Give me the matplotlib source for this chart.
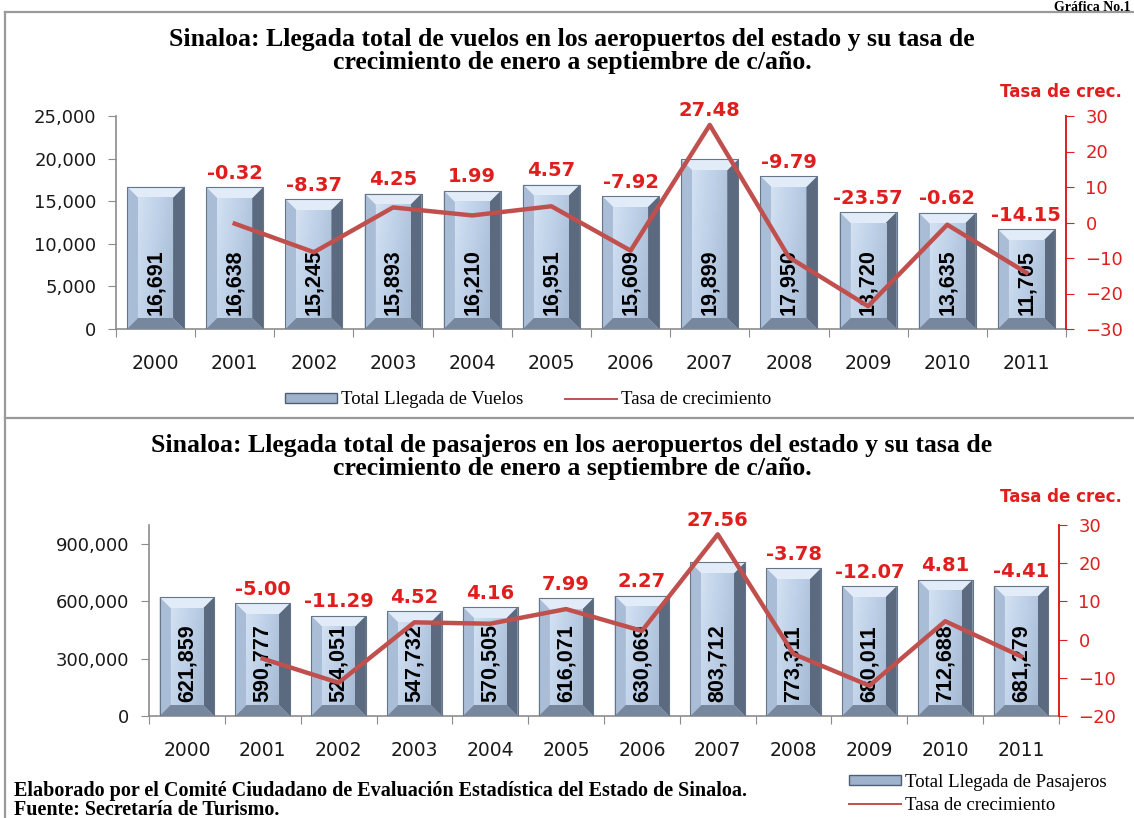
import numpy as np
import matplotlib
matplotlib.use("Agg")
import matplotlib.pyplot as plt
from matplotlib.patches import Patch
from matplotlib.lines import Line2D
from matplotlib.colors import LinearSegmentedColormap
from matplotlib.ticker import FuncFormatter

# --- datos ---
years = ["2000", "2001", "2002", "2003", "2004", "2005",
         "2006", "2007", "2008", "2009", "2010", "2011"]
vuelos = [16691, 16638, 15245, 15893, 16210, 16951,
          15609, 19899, 17950, 13720, 13635, 11705]
tasa_vuelos = [None, -0.32, -8.37, 4.25, 1.99, 4.57,
               -7.92, 27.48, -9.79, -23.57, -0.62, -14.15]
pasajeros = [621859, 590777, 524051, 547732, 570505, 616071,
             630069, 803712, 773311, 680011, 712688, 681279]
tasa_pasajeros = [None, -5.00, -11.29, 4.52, 4.16, 7.99,
                  2.27, 27.56, -3.78, -12.07, 4.81, -4.41]

W, H = 1134, 818
RED = "#e01e1e"
LINE = "#c0504d"
GRAY = "#8c8c8c"
face_cmap = LinearSegmentedColormap.from_list("face", ["#d3e1f2", "#bccfe7", "#a6bad3"])


def fx(px):
    return px / W


def fy(px):
    return 1 - px / H


def bevel_bars(ax, bars, px=11):
    bb = ax.get_window_extent()
    x0, x1 = ax.get_xlim()
    y0, y1 = ax.get_ylim()
    dx = px * (x1 - x0) / bb.width
    dy = px * (y1 - y0) / bb.height
    grad = np.linspace(0, 1, 64)[None, :] * 0.7 + np.linspace(0, 1, 64)[::-1, None] * 0.3
    for b in bars:
        l, w, h = b.get_x(), b.get_width(), b.get_height()
        r = l + w
        ax.fill([l, r, r - dx, l + dx], [h, h, h - dy, h - dy], color="#e2ecf8", zorder=3, lw=0)
        ax.fill([l, l + dx, l + dx, l], [0, dy, h - dy, h], color="#aabdd6", zorder=3, lw=0)
        ax.fill([r, r, r - dx, r - dx], [0, h, h - dy, dy], color="#5b6a7e", zorder=3, lw=0)
        ax.fill([l, r, r - dx, l + dx], [0, 0, dy, dy], color="#76879e", zorder=3, lw=0)
        ax.imshow(grad, cmap=face_cmap, extent=(l + dx, r - dx, dy, h - dy),
                  aspect="auto", origin="lower", zorder=3, interpolation="bilinear")
        ax.plot([l, l, r, r], [0, h, h, 0], color="#66768a", lw=0.8, zorder=4)
    ax.set_xlim(x0, x1)
    ax.set_ylim(y0, y1)


def chart(rect, vals, rates, ymax, ystep, rlim, crec_y):
    ax = fig.add_axes(rect)
    x = np.arange(len(years))
    ax.set_xlim(-0.5, len(years) - 0.5)
    ax.set_ylim(0, ymax)
    bars = ax.bar(x, vals, width=0.72, color="#b8cce4", zorder=2)
    bevel_bars(ax, bars)

    ax.set_yticks(np.arange(0, ymax + 1, ystep))
    ax.yaxis.set_major_formatter(FuncFormatter(lambda v, p: f"{v:,.0f}"))
    ax.set_xticks(np.arange(-0.5, len(years), 1))
    ax.set_xticklabels([])
    ax.set_xticks(x, minor=True)
    ax.set_xticklabels(years, minor=True, fontsize=13.5, color="#1a1a1a")
    ax.tick_params(axis="x", which="minor", length=0, pad=18)
    ax.tick_params(axis="x", which="major", length=6, color=GRAY, direction="out")
    ax.tick_params(axis="y", length=6, color=GRAY, labelsize=13, labelcolor="#1a1a1a", pad=8)
    for s in ["top", "right"]:
        ax.spines[s].set_visible(False)
    for s in ["left", "bottom"]:
        ax.spines[s].set_color(GRAY)
        ax.spines[s].set_linewidth(1.2)

    ax2 = ax.twinx()
    ax2.set_ylim(*rlim)
    ax2.set_yticks(np.arange(rlim[0], rlim[1] + 1, 10))
    xr = [i for i in x if rates[i] is not None]
    yr = [rates[i] for i in xr]
    ax2.plot(xr, yr, color=LINE, lw=3.2, zorder=5)
    for s in ["top", "left", "bottom"]:
        ax2.spines[s].set_visible(False)
    ax2.spines["right"].set_color(RED)
    ax2.spines["right"].set_linewidth(1.4)
    ax2.tick_params(axis="y", length=6, color=RED, labelsize=13, labelcolor=RED, pad=8)

    # etiquetas
    for i in x:
        ax.annotate(f"{vals[i]:,}", xy=(i, 0), xytext=(0, 14), textcoords="offset pixels",
                    rotation=90, ha="center", va="bottom", fontsize=15.5, fontweight="bold",
                    family="Liberation Sans", color="black", zorder=6)
        if rates[i] is None:
            continue
        top_bar = ax.transData.transform((i, vals[i]))[1]
        top_line = ax2.transData.transform((i, rates[i]))[1]
        ytop = ax2.transData.inverted().transform((0, max(top_bar, top_line)))[1]
        ax2.annotate(f"{rates[i]:.2f}", xy=(i, ytop), xytext=(0, 14), textcoords="offset pixels",
                     ha="center", va="center", fontsize=14, fontweight="bold", color=RED, zorder=7)

    fig.text(fx(1061), fy(crec_y), "Tasa de crec.", ha="center", va="center",
             fontsize=12, fontweight="bold", color=RED)
    return ax


fig = plt.figure(figsize=(W / 100, H / 100), dpi=100)

# marco
fig.add_artist(Line2D([fx(5), 1], [fy(12), fy(12)], color="#9a9a9a", lw=1.6))
fig.add_artist(Line2D([fx(5), fx(5)], [fy(12), 0], color="#9a9a9a", lw=1.6))
fig.add_artist(Line2D([fx(5), 1], [fy(418), fy(418)], color="#9a9a9a", lw=1.6))
fig.text(fx(1131), fy(1), "Gráfica No.1", fontsize=10, fontweight="bold",
         family="Liberation Serif", va="top", ha="right")

titulo_kw = dict(ha="center", va="center", fontsize=18.5, fontweight="bold",
                 family="Liberation Serif", linespacing=1.0)
ley_kw = dict(frameon=False, prop={"family": "Liberation Serif", "size": 13.5},
              handlelength=2.8, handleheight=0.5, handletextpad=0.2)

# grafica 1: vuelos
chart([fx(116), fy(329), fx(1066 - 116), (329 - 116) / H], vuelos, tasa_vuelos,
      25000, 5000, (-30, 30), 92)
fig.text(fx(572), fy(51), "Sinaloa: Llegada total de vuelos en los aeropuertos del estado y su tasa de\n"
         "crecimiento de enero a septiembre de c/año.", **titulo_kw)
h_bar = Patch(facecolor="#9fb2cb", edgecolor="#4f5f73", lw=1)
h_line = Line2D([], [], color=LINE, lw=1.4)
fig.legend([h_bar, h_line], ["Total Llegada de Vuelos", "Tasa de crecimiento"],
           loc="center", bbox_to_anchor=(fx(528), fy(400)), ncol=2, columnspacing=2.2, **ley_kw)

# grafica 2: pasajeros
chart([fx(149), fy(716), fx(1059 - 149), (716 - 525) / H], pasajeros, tasa_pasajeros,
      1000000, 300000, (-20, 30), 497)
fig.text(fx(572), fy(457), "Sinaloa: Llegada total de pasajeros en los aeropuertos del estado y su tasa de\n"
         "crecimiento de enero a septiembre de c/año.", **titulo_kw)
fig.legend([h_bar, h_line], ["Total Llegada de Pasajeros", "Tasa de crecimiento"],
           loc="center left", bbox_to_anchor=(fx(832), fy(794)), ncol=1, labelspacing=0.35, **ley_kw)

fig.text(fx(14), fy(791), "Elaborado por el Comité Ciudadano de Evaluación Estadística del Estado de Sinaloa.",
         fontsize=14.5, fontweight="bold", family="Liberation Serif", va="center")
fig.text(fx(14), fy(810), "Fuente: Secretaría de Turismo.",
         fontsize=14.5, fontweight="bold", family="Liberation Serif", va="center")

fig.savefig("out.png", dpi=100)
